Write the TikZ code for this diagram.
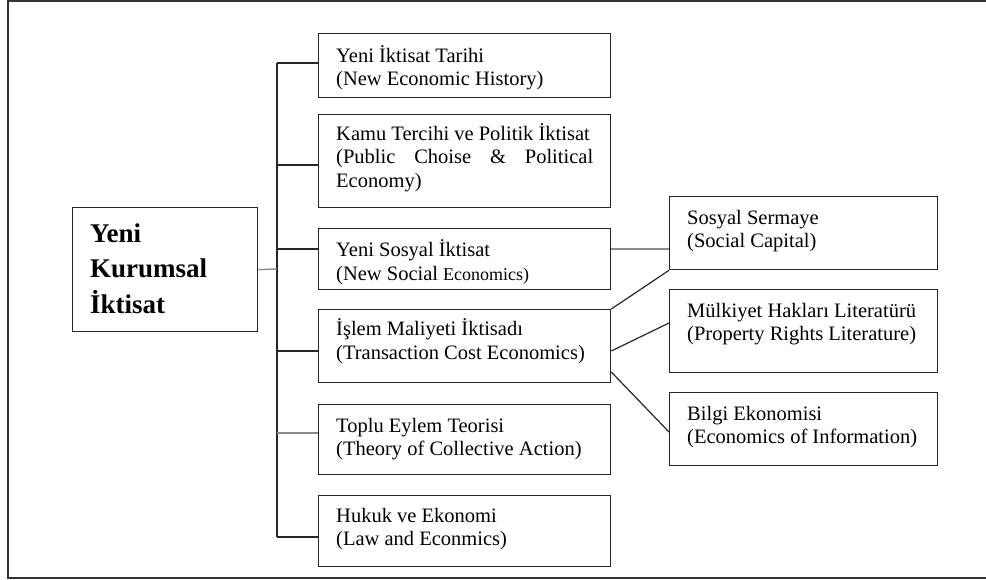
\documentclass[tikz,border=0pt]{standalone}
\usepackage{fontspec}
\setmainfont{Liberation Serif}
\usetikzlibrary{calc}
\tikzset{
  box/.style={draw=black!85, line width=1.3pt, fill=white, inner sep=0pt, anchor=north west},
  lbox/.style={box, minimum width=292pt},
  rbox/.style={box, minimum width=268pt},
  txt/.style={inner sep=0pt, anchor=base west, font=\fontsize{20.5}{23.5}\selectfont},
  link/.style={draw=black!85, line width=1.2pt},
  glink/.style={draw=black!45, line width=1.4pt},
  frame/.style={draw=black!80, line width=1.3pt}
}
\begin{document}
\begin{tikzpicture}[x=1pt,y=-1pt]
\useasboundingbox (0,0) rectangle (986,579);
\draw[frame] (1000,1) -- (8,1) -- (8,578) -- (1000,578);

% main box
\node[box, minimum width=185pt, minimum height=124pt] (m) at (72,207) {};
\node[inner sep=0pt, anchor=base west, font=\fontsize{27}{35.5}\selectfont\bfseries] (mt)
  at ($(m.north west)+(18,35)$) {\parbox[t]{160pt}{Yeni\\Kurumsal\\İktisat}};

% left column boxes
\node[lbox, minimum height=64pt] (b1) at (318,33) {};
\node[lbox, minimum height=93pt] (b2) at (318,114) {};
\node[lbox, minimum height=61pt] (b3) at (318,228) {};
\node[lbox, minimum height=73pt] (b4) at (318,309) {};
\node[lbox, minimum height=70pt] (b5) at (318,404) {};
\node[lbox, minimum height=71pt] (b6) at (318,495) {};

\node[txt] (b1t) at ($(b1.north west)+(18,29)$) {\parbox[t]{260pt}{Yeni İktisat Tarihi\\(New Economic History)}};
\node[txt] (b2t) at ($(b2.north west)+(18,26)$) {\parbox[t]{257pt}{Kamu Tercihi ve Politik İktisat\\\makebox[257pt][s]{(Public Choise \& Political}\\Economy)}};
\node[txt] (b3t) at ($(b3.north west)+(18,28.5)$) {\parbox[t]{260pt}{Yeni Sosyal İktisat\\(New Social {\fontsize{18}{23.5}\selectfont Economics)}}};
\node[txt] (b4t) at ($(b4.north west)+(18,26.5)$) {\parbox[t]{260pt}{İşlem Maliyeti İktisadı\\(Transaction Cost Economics)}};
\node[txt] (b5t) at ($(b5.north west)+(18,28)$) {\parbox[t]{260pt}{Toplu Eylem Teorisi\\(Theory of Collective Action)}};
\node[txt] (b6t) at ($(b6.north west)+(18,27)$) {\parbox[t]{260pt}{Hukuk ve Ekonomi\\(Law and Econmics)}};

% right column boxes
\node[rbox, minimum height=73pt] (r1) at (669,196) {};
\node[rbox, minimum height=83pt] (r2) at (669,289) {};
\node[rbox, minimum height=73pt] (r3) at (669,392) {};

\node[txt] (r1t) at ($(r1.north west)+(18,28)$) {\parbox[t]{240pt}{Sosyal Sermaye\\(Social Capital)}};
\node[txt] (r2t) at ($(r2.north west)+(18,28)$) {\parbox[t]{240pt}{Mülkiyet Hakları Literatürü\\(Property Rights Literature)}};
\node[txt] (r3t) at ($(r3.north west)+(18,28)$) {\parbox[t]{240pt}{Bilgi Ekonomisi\\(Economics of Information)}};

% trunk
\coordinate (j1) at (277,63);
\coordinate (j2) at (277,165);
\coordinate (j3) at (277,249);
\coordinate (jm) at (277,269);
\coordinate (j4) at (277,351);
\coordinate (j5) at (277,433);
\coordinate (j6) at (277,537);
\draw[link] (j1) -- (j6);
\draw[link] (j1) -- (j1 -| b1.west);
\draw[link] (j2) -- (j2 -| b2.west);
\draw[link] (j3) -- (j3 -| b3.west);
\draw[link] (j4) -- (j4 -| b4.west);
\draw[glink] (j5) -- (j5 -| b5.west);
\draw[link] (j6) -- (j6 -| b6.west);
\draw[glink] (m.east) -- (jm);

% right links
\draw[glink] ([yshift=-21pt]b3.north east) -- ([yshift=-53pt]r1.north west);
\draw[link] (b4.north east) -- (r1.south west);
\draw[link] ([yshift=-42pt]b4.north east) -- ([yshift=-34pt]r2.north west);
\draw[link] ([yshift=-63pt]b4.north east) -- ([yshift=-40pt]r3.north west);
\end{tikzpicture}
\end{document}
